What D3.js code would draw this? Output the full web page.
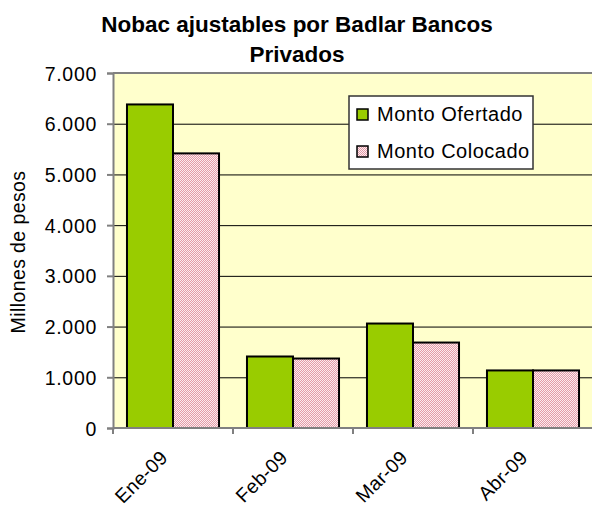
<!DOCTYPE html>
<html>
<head>
<meta charset="utf-8">
<script src="https://cdn.jsdelivr.net/npm/d3@7"></script>
<style>
  body { margin: 0; background: #fff; }
  svg text { font-family: Arial, "Liberation Sans", sans-serif; fill: #000; }
</style>
</head>
<body>
<svg width="592" height="508"></svg>
<script>
// datos
var meses = ["Ene-09", "Feb-09", "Mar-09", "Abr-09"];
var series = ["Monto Ofertado", "Monto Colocado"];
var ofertado = [6380, 1410, 2060, 1135];
var colocado = [5415, 1370, 1685, 1135];
var yTicks = [0, 1000, 2000, 3000, 4000, 5000, 6000, 7000];
var tituloLineas = ["Nobac ajustables por Badlar Bancos", "Privados"];

var svg = d3.select("svg");
var plot = {left: 113, top: 73, right: 593, bottom: 428};

// patron rosado punteado
var defs = svg.append("defs");
var pat = defs.append("pattern").attr("id", "rosa")
  .attr("width", 2).attr("height", 2).attr("patternUnits", "userSpaceOnUse");
pat.append("rect").attr("width", 2).attr("height", 2).attr("fill", "#fdeef1");
pat.append("rect").attr("width", 1).attr("height", 1).attr("fill", "#e39aa6");
pat.append("rect").attr("x", 1).attr("y", 1).attr("width", 1).attr("height", 1).attr("fill", "#e39aa6");

var colores = ["#99cc00", "url(#rosa)"];

var y = d3.scaleLinear().domain([0, 7000]).range([plot.bottom, plot.top]);
var x0 = d3.scaleBand().domain(meses)
  .range([plot.left, plot.right])
  .paddingInner(0.233).paddingOuter(0.1165);
var x1 = d3.scaleBand().domain(series).range([0, x0.bandwidth()]);

// fondo del area
svg.append("rect")
  .attr("x", plot.left).attr("y", plot.top)
  .attr("width", plot.right - plot.left).attr("height", plot.bottom - plot.top)
  .attr("fill", "#ffffcc");

// lineas de grilla
svg.append("g").selectAll("line")
  .data(yTicks.filter(function(d) { return d > 0 && d < 7000; }))
  .enter().append("line")
  .attr("x1", plot.left).attr("x2", plot.right)
  .attr("y1", function(d) { return y(d) + 0.5; })
  .attr("y2", function(d) { return y(d) + 0.5; })
  .attr("stroke", "#000").attr("stroke-width", 1);

// borde superior
svg.append("line")
  .attr("x1", plot.left).attr("x2", plot.right)
  .attr("y1", plot.top).attr("y2", plot.top)
  .attr("stroke", "#808080").attr("stroke-width", 2);

// barras
var datos = meses.map(function(m, i) {
  return {mes: m, valores: [ofertado[i], colocado[i]]};
});

var grupos = svg.append("g").selectAll("g")
  .data(datos).enter().append("g")
  .attr("transform", function(d) { return "translate(" + x0(d.mes) + ",0)"; });

grupos.selectAll("rect")
  .data(function(d) { return d.valores.map(function(v, j) { return {s: series[j], v: v, j: j}; }); })
  .enter().append("rect")
  .attr("x", function(d) { return x1(d.s); })
  .attr("y", function(d) { return y(d.v); })
  .attr("width", x1.bandwidth())
  .attr("height", function(d) { return y(0) - y(d.v); })
  .attr("fill", function(d) { return colores[d.j]; })
  .attr("stroke", "#000").attr("stroke-width", 2);

// eje Y
var yAxis = svg.append("g")
  .attr("transform", "translate(" + plot.left + ",0)")
  .call(d3.axisLeft(y).tickValues(yTicks).tickSize(6).tickPadding(10)
    .tickFormat(function(d) { return d3.format(",")(d).replace(/,/g, "."); }));
yAxis.select(".domain").attr("stroke", "#808080").attr("stroke-width", 2);
yAxis.selectAll(".tick line").attr("stroke", "#808080").attr("stroke-width", 2);
yAxis.selectAll("text")
  .style("font-size", "19.5px").style("letter-spacing", "0.7px")
  .attr("fill", "#000").attr("dy", "0.36em");

// eje X
var xAxis = svg.append("g")
  .attr("transform", "translate(0," + plot.bottom + ")");
xAxis.append("line")
  .attr("x1", plot.left).attr("x2", plot.right)
  .attr("stroke", "#808080").attr("stroke-width", 2);
xAxis.selectAll(".tk")
  .data(meses).enter().append("line")
  .attr("x1", function(d) { return x0(d) - x0.step() * 0.1165; })
  .attr("x2", function(d) { return x0(d) - x0.step() * 0.1165; })
  .attr("y1", 0).attr("y2", 6)
  .attr("stroke", "#808080").attr("stroke-width", 2);
xAxis.selectAll("text")
  .data(meses).enter().append("text")
  .attr("transform", function(d) {
    var cx = x0(d) + x0.bandwidth() / 2 - 9;
    return "translate(" + cx + ",26) rotate(-45)";
  })
  .attr("text-anchor", "end")
  .attr("dy", "0.35em")
  .style("font-size", "19.5px").style("letter-spacing", "0.3px")
  .text(function(d) { return d; });

// titulo del eje Y
svg.append("text")
  .attr("transform", "translate(25,252) rotate(-90)")
  .attr("text-anchor", "middle")
  .style("font-size", "19.5px").style("letter-spacing", "0.4px")
  .text("Millones de pesos");

// titulo
svg.append("g").selectAll("text")
  .data(tituloLineas).enter().append("text")
  .attr("x", 297)
  .attr("y", function(d, i) { return 32 + i * 30; })
  .attr("text-anchor", "middle")
  .style("font-size", "22.5px").style("font-weight", "bold")
  .text(function(d) { return d; });

// leyenda
var ley = svg.append("g").attr("transform", "translate(349,96)");
ley.append("rect")
  .attr("width", 184).attr("height", 73)
  .attr("fill", "#fff").attr("stroke", "#333").attr("stroke-width", 1.5);
var items = ley.selectAll(".it").data(series).enter().append("g")
  .attr("transform", function(d, i) { return "translate(0," + (i * 37) + ")"; });
items.append("rect")
  .attr("x", 8).attr("y", 13).attr("width", 11).attr("height", 11)
  .attr("fill", function(d, i) { return colores[i]; })
  .attr("stroke", "#000").attr("stroke-width", 1.5);
items.append("text")
  .attr("x", 28).attr("y", 25)
  .style("font-size", "20px").style("letter-spacing", "0.5px")
  .text(function(d) { return d; });
</script>
</body>
</html>
